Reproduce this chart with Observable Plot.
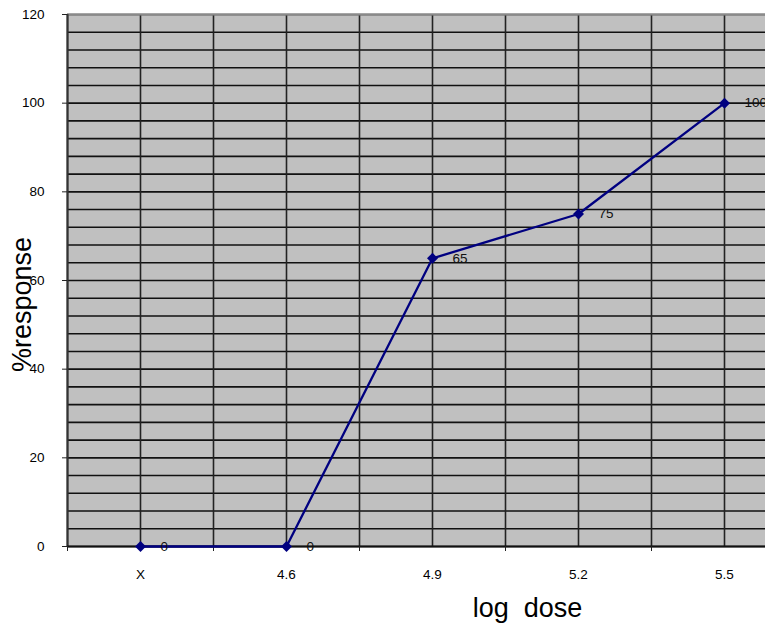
<!DOCTYPE html>
<html>
<head>
<meta charset="utf-8">
<script src="https://cdn.jsdelivr.net/npm/d3@7"></script>
<script src="https://cdn.jsdelivr.net/npm/@observablehq/plot@0.6"></script>
<style>
html, body { margin: 0; padding: 0; background: white; overflow: hidden; }
</style>
</head>
<body>
<div id="chart"></div>
<script>
const categories = ["X", "4.6", "4.9", "5.2", "5.5"];
const response = [0, 0, 65, 75, 100];
const yTicks = [0, 20, 40, 60, 80, 100, 120];
const yMinorGrid = d3.range(0, 121, 4);
const xTitle = "log  dose";
const yTitle = "%response";

const data = categories.map((c, i) => ({i, c, v: response[i]}));
const xCenters = d3.range(categories.length);
const xBounds = d3.range(-0.5, categories.length, 1);
const xGrid = d3.range(-0.5, categories.length, 0.5);

const diamond = {
  draw(context, size) {
    const h = Math.sqrt(size / 2);
    context.moveTo(0, -h);
    context.lineTo(h, 0);
    context.lineTo(0, h);
    context.lineTo(-h, 0);
    context.closePath();
  }
};

const font = "'Liberation Sans', Arial, sans-serif";

const chart = Plot.plot({
  width: 765,
  height: 623,
  marginLeft: 67,
  marginTop: 14,
  marginBottom: 77,
  marginRight: 0,
  style: {fontFamily: font, fontSize: "13.5px", color: "black", background: "white", overflow: "hidden"},
  x: {type: "linear", domain: [-0.5, categories.length - 0.5], range: [67, 797], axis: null},
  y: {domain: [0, 120], range: [546, 14], axis: null},
  marks: [
    Plot.frame({fill: "#c0c0c0", stroke: null}),
    Plot.gridY(yMinorGrid, {stroke: "#111", strokeOpacity: 1, strokeWidth: 1.6}),
    Plot.gridX(xGrid, {stroke: "#222", strokeOpacity: 1, strokeWidth: 1.6}),
    Plot.ruleY([120], {stroke: "#8a8a8a", strokeWidth: 2}),
    Plot.ruleX([-0.5], {stroke: "#333", strokeWidth: 2}),
    Plot.ruleY([0], {stroke: "#111", strokeWidth: 2}),
    Plot.axisY(yTicks, {anchor: "left", tickSize: 5, tickPadding: 18, label: null, fontSize: 13.5, stroke: "#222"}),
    Plot.axisX(xBounds, {anchor: "bottom", tickSize: 5, tickFormat: () => "", label: null, stroke: "#222"}),
    Plot.axisX(xCenters, {anchor: "bottom", tickSize: 0, tickPadding: 23, tickFormat: (i) => categories[i], label: null, fontSize: 13.5}),
    Plot.line(data, {x: "i", y: "v", stroke: "#000080", strokeWidth: 2.3}),
    Plot.dot(data, {x: "i", y: "v", fill: "#000080", stroke: null, r: 4.4, symbol: diamond}),
    Plot.text(data, {x: "i", y: "v", text: (d) => String(d.v), dx: 20, textAnchor: "start", fontSize: 13.5, fill: "#111"}),
    Plot.text([yTitle], {frameAnchor: "left", textAnchor: "middle", lineAnchor: "middle", rotate: -90, dx: -45, dy: 24, fontSize: 27, fill: "black"}),
    Plot.text([xTitle], {frameAnchor: "bottom", textAnchor: "middle", lineAnchor: "bottom", dx: 111, dy: 70, fontSize: 27, fill: "black"})
  ]
});
document.getElementById("chart").appendChild(chart);
</script>
</body>
</html>
